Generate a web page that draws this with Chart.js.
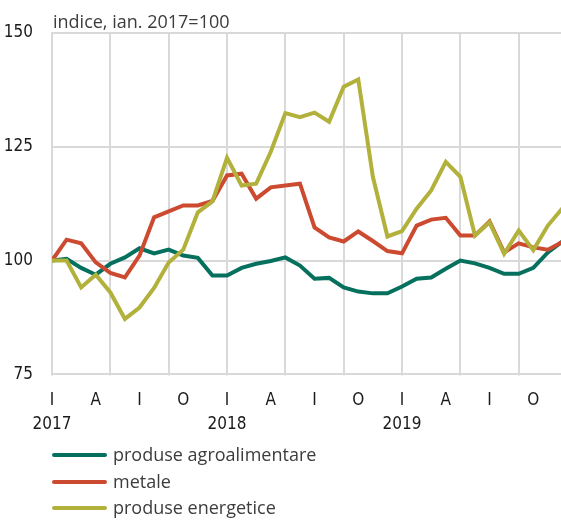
<!DOCTYPE html>
<html>
<head>
<meta charset="utf-8">
<script src="https://cdn.jsdelivr.net/npm/chart.js@4"></script>
<style>
  html, body { margin: 0; padding: 0; background: #fff; }
  #wrap { width: 561px; height: 520px; position: relative; }
</style>
</head>
<body>
<div id="wrap"><canvas id="indexChart"></canvas></div>
<script>
// luni: ian. 2017 - dec. 2019
var months = ['2017-01','2017-02','2017-03','2017-04','2017-05','2017-06','2017-07','2017-08','2017-09','2017-10','2017-11','2017-12',
              '2018-01','2018-02','2018-03','2018-04','2018-05','2018-06','2018-07','2018-08','2018-09','2018-10','2018-11','2018-12',
              '2019-01','2019-02','2019-03','2019-04','2019-05','2019-06','2019-07','2019-08','2019-09','2019-10','2019-11','2019-12'];

var agro = [100, 100.4, 98.4, 96.9, 99.3, 100.7, 102.7, 101.6, 102.4, 101.1, 100.6, 96.7,
            96.7, 98.4, 99.3, 99.9, 100.7, 98.9, 96.0, 96.2, 94.1, 93.2, 92.8, 92.8,
            94.3, 96.0, 96.3, 98.2, 100.0, 99.4, 98.4, 97.1, 97.1, 98.4, 101.8, 104.2];

var metale = [100, 104.6, 103.8, 99.6, 97.3, 96.3, 101.1, 109.5, 110.8, 112.1, 112.1, 113.1,
              118.7, 119.1, 113.6, 116.1, 116.5, 116.9, 107.3, 105.1, 104.2, 106.4, 104.3, 102.1,
              101.6, 107.7, 109.0, 109.4, 105.5, 105.5, 108.6, 101.8, 103.8, 102.9, 102.4, 104.1];

var energetice = [100, 100, 94.1, 96.9, 93.0, 87.2, 89.7, 94.0, 99.6, 102.4, 110.6, 113.0,
                  122.6, 116.5, 116.9, 123.9, 132.4, 131.5, 132.5, 130.5, 138.2, 139.8, 118.4, 105.3,
                  106.5, 111.4, 115.4, 121.7, 118.4, 105.5, 108.4, 101.5, 106.6, 102.3, 107.7, 111.5];

var seriesNames = ['produse agroalimentare', 'metale', 'produse energetice'];
var monthLetters = {0: 'I', 3: 'A', 6: 'I', 9: 'O'};
var yTicks = [75, 100, 125, 150];
var unitLabel = 'indice, ian. 2017=100';

var colors = ['#06705e', '#cc4a2f', '#b2b13b'];
var narrow = "'Liberation Sans Narrow', 'DejaVu Sans Condensed', sans-serif";
var plain = "'Open Sans', 'Noto Sans', sans-serif";
var gridColor = '#d9d9d9';

function toPoints(arr) {
  return arr.map(function (v, i) { return { x: i, y: v }; });
}

// grila: orizontal la fiecare tick y, vertical la fiecare 4 luni
var gridLines = {
  id: 'gridLines',
  beforeDatasetsDraw: function (chart) {
    var ctx = chart.ctx;
    var area = chart.chartArea;
    var xs = chart.scales.x, ys = chart.scales.y;
    ctx.save();
    ctx.strokeStyle = gridColor;
    ctx.lineWidth = 2;
    yTicks.forEach(function (v) {
      var py = Math.round(ys.getPixelForValue(v));
      ctx.beginPath();
      ctx.moveTo(area.left - 1, py);
      ctx.lineTo(area.right, py);
      ctx.stroke();
    });
    for (var m = 0; m <= xs.max; m += 4) {
      var px = Math.round(xs.getPixelForValue(m));
      ctx.beginPath();
      ctx.moveTo(px, area.top - 1);
      ctx.lineTo(px, area.bottom + 1);
      ctx.stroke();
    }
    ctx.restore();
  }
};

// titlu + legenda desenate pe canvas
var extras = {
  id: 'extras',
  afterDraw: function (chart) {
    var ctx = chart.ctx;
    var area = chart.chartArea;
    ctx.save();
    ctx.fillStyle = '#3c3c3c';
    ctx.font = '18px ' + plain;
    ctx.textBaseline = 'alphabetic';
    ctx.textAlign = 'left';
    ctx.fillText(unitLabel, area.left + 1, 28);

    var rowY = [455, 482, 508];
    seriesNames.forEach(function (name, i) {
      ctx.strokeStyle = colors[i];
      ctx.lineWidth = 4;
      ctx.lineCap = 'round';
      ctx.beginPath();
      ctx.moveTo(area.left + 2, rowY[i]);
      ctx.lineTo(area.left + 53, rowY[i]);
      ctx.stroke();
      ctx.fillStyle = '#3c3c3c';
      ctx.textBaseline = 'middle';
      ctx.fillText(name, area.left + 61, rowY[i] + 1);
    });
    ctx.restore();
  }
};

var ctx = document.getElementById('indexChart');
var chart = new Chart(ctx, {
  type: 'line',
  data: {
    datasets: [
      { label: seriesNames[0], data: toPoints(agro), borderColor: colors[0], order: 3 },
      { label: seriesNames[1], data: toPoints(metale), borderColor: colors[1], order: 2 },
      { label: seriesNames[2], data: toPoints(energetice), borderColor: colors[2], order: 1 }
    ]
  },
  options: {
    responsive: true,
    maintainAspectRatio: false,
    devicePixelRatio: 1,
    animation: false,
    layout: { padding: { top: 33, left: 0, right: 0, bottom: 78 } },
    elements: {
      line: { borderWidth: 4, tension: 0, borderJoinStyle: 'miter' },
      point: { radius: 0 }
    },
    plugins: {
      legend: { display: false },
      tooltip: { enabled: false },
      title: { display: false }
    },
    scales: {
      x: {
        type: 'linear',
        min: 0,
        max: 34.9,
        grid: { display: false },
        border: { display: false },
        ticks: {
          stepSize: 3,
          includeBounds: false,
          autoSkip: false,
          maxRotation: 0,
          padding: 6,
          color: '#1a1a1a',
          font: { family: narrow, size: 17, lineHeight: 1.4 },
          callback: function (v) {
            var m = v % 12;
            var letter = monthLetters[m];
            if (m === 0) return [letter, months[v].slice(0, 4)];
            return letter;
          }
        }
      },
      y: {
        min: 75,
        max: 150,
        border: { display: false },
        afterFit: function (scale) { scale.width = 52; },
        afterBuildTicks: function (scale) {
          scale.ticks = yTicks.map(function (v) { return { value: v }; });
        },
        grid: { display: false, drawTicks: false },
        ticks: {
          padding: 19,
          color: '#1a1a1a',
          font: { family: narrow, size: 17 }
        }
      }
    }
  },
  plugins: [gridLines, extras]
});
</script>
</body>
</html>
